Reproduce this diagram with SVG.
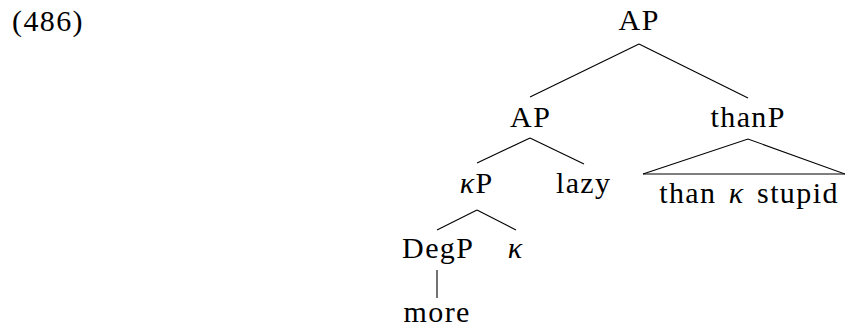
<svg xmlns="http://www.w3.org/2000/svg" width="845" height="329" viewBox="0 0 845 329">
<style>
text{font-family:'Liberation Serif','DejaVu Serif',serif;font-size:30px;fill:#000;letter-spacing:1.4px}
.c{text-anchor:middle}
.m{font-style:italic}
line,polyline{stroke:#000;stroke-width:1.1;fill:none}
</style>
<rect width="845" height="329" fill="#fff"/>
<text id="ex" x="12" y="31">(486)</text>
<g id="edges">
<line x1="639" y1="44" x2="530" y2="97"/>
<line x1="639" y1="44" x2="748" y2="98"/>
<line x1="530" y1="138" x2="477" y2="163"/>
<line x1="530" y1="138" x2="584" y2="164"/>
<polyline points="643,174 748,139 845,174"/>
<line x1="643" y1="174" x2="845" y2="174"/>
<line x1="477" y1="210" x2="437" y2="230"/>
<line x1="477" y1="210" x2="516" y2="230"/>
<line x1="437" y1="270" x2="437" y2="298"/>
</g>
<g id="n-root"><text class="c" x="639.2" y="30">AP</text></g>
<g id="n-ap"><text class="c" x="530.7" y="127">AP</text></g>
<g id="n-thanp"><text class="c" x="748.2" y="127">thanP</text></g>
<g id="n-kp"><text class="c" x="476.7" y="193"><tspan class="m">κ</tspan>P</text></g>
<g id="n-lazy"><text class="c" x="583.7" y="193">lazy</text></g>
<g id="n-tri"><text class="c" x="749" y="203" word-spacing="3.5">than <tspan class="m">κ</tspan> stupid</text></g>
<g id="n-degp"><text class="c" x="438.2" y="258">DegP</text></g>
<g id="n-k"><text class="c m" x="515.7" y="258">κ</text></g>
<g id="n-more"><text class="c" x="437.2" y="322">more</text></g>
</svg>
